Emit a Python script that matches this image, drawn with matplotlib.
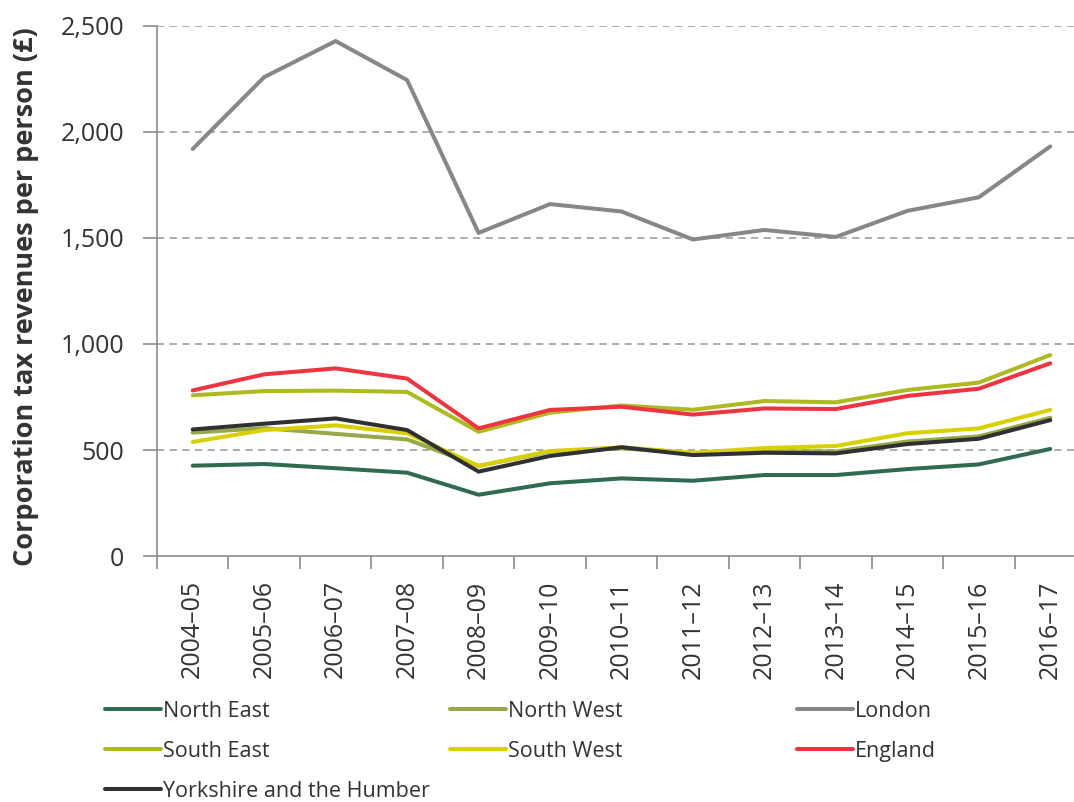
import matplotlib
matplotlib.use("Agg")
import matplotlib.pyplot as plt
import numpy as np

plt.rcParams['font.family'] = ['Open Sans', 'DejaVu Sans']

years = ["2004–05", "2005–06", "2006–07", "2007–08", "2008–09", "2009–10", "2010–11",
         "2011–12", "2012–13", "2013–14", "2014–15", "2015–16", "2016–17"]

north_east = [426, 434, 414, 393, 289, 343, 366, 355, 382, 382, 410, 432, 505]
north_west = [582, 603, 576, 550, 425, 492, 508, 485, 494, 493, 540, 564, 652]
london = [1920, 2259, 2429, 2245, 1524, 1660, 1625, 1493, 1538, 1505, 1628, 1692, 1932]
south_east = [758, 778, 780, 774, 586, 676, 710, 690, 731, 725, 783, 818, 948]
south_west = [538, 594, 616, 579, 425, 495, 513, 487, 509, 519, 579, 602, 689]
england = [781, 857, 885, 837, 602, 689, 704, 667, 696, 693, 755, 789, 909]
yorkshire = [597, 624, 649, 594, 398, 472, 513, 476, 487, 484, 528, 553, 641]

series = [
    ("North East", north_east, "#2f6b50"),
    ("North West", north_west, "#95a84a"),
    ("London", london, "#878787"),
    ("South East", south_east, "#adbb21"),
    ("South West", south_west, "#d8d000"),
    ("England", england, "#ef3340"),
    ("Yorkshire and the Humber", yorkshire, "#303030"),
]

fig = plt.figure(figsize=(10.74, 8.02), dpi=100)
ax = fig.add_axes([157/1074, (802-556)/802, (1086-157)/1074, 530/802])

x = np.arange(len(years))
handles = {}
for name, vals, col in series:
    ln, = ax.plot(x, vals, color=col, lw=2.9, solid_capstyle='round', zorder=3)
    handles[name] = ln

ax.set_xlim(-0.5, len(years) - 0.5)
ax.set_ylim(0, 2500)
ax.set_yticks([0, 500, 1000, 1500, 2000, 2500])
ax.set_yticklabels(["0", "500", "1,000", "1,500", "2,000", "2,500"], fontsize=18, color="#333333")
for yv in [500, 1000, 1500, 2000, 2500]:
    ax.axhline(yv, color="#a6a6a6", lw=1.3, ls=(0, (4, 3)), zorder=1)

ax.set_xticks(x)
ax.set_xticklabels(years, rotation=90, fontsize=18, color="#333333")
ax.set_xticks(np.arange(-0.5, len(years), 1.0), minor=True)
ax.tick_params(axis='x', which='major', length=0, pad=17.5)
ax.tick_params(axis='x', which='minor', length=9, color="#8c8c8c", width=1.2)
ax.tick_params(axis='y', length=10, color="#8c8c8c", width=1.2, pad=13.5)

for s in ['top', 'right']:
    ax.spines[s].set_visible(False)
for s in ['left', 'bottom']:
    ax.spines[s].set_color("#8c8c8c")
    ax.spines[s].set_linewidth(1.2)

ax.set_ylabel("Corporation tax revenues per person (£)", fontsize=19.5, fontweight='bold',
              color="#333333")
ax.yaxis.set_label_coords((39 - 157) / 929, 0.49)

cols = [
    (["North East", "South East", "Yorkshire and the Humber"], 105),
    (["North West", "South West"], 450),
    (["London", "England"], 797),
]
for names, xpx in cols:
    leg = fig.legend([handles[n] for n in names], names, loc='upper left',
                     bbox_to_anchor=(xpx/1074, 1 - 701/802), frameon=False,
                     fontsize=15.5, handlelength=2.6, handletextpad=0.08,
                     labelspacing=0.88, borderaxespad=0, borderpad=0)
    for t in leg.get_texts():
        t.set_color("#333333")

fig.savefig("out.png", dpi=100)
